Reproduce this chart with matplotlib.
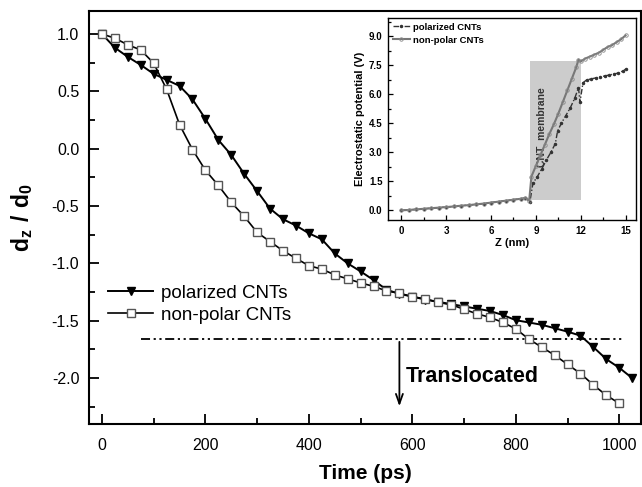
import matplotlib
matplotlib.use("Agg")
import matplotlib.pyplot as plt
from matplotlib.ticker import MultipleLocator

plt.rcParams['font.family'] = ['Liberation Sans', 'DejaVu Sans']
plt.rcParams['mathtext.fontset'] = 'custom'
plt.rcParams['mathtext.rm'] = 'Liberation Sans'
plt.rcParams['mathtext.bf'] = 'Liberation Sans:bold'
plt.rcParams['axes.unicode_minus'] = False

# ---------------- main data ----------------
time_pol = [0, 25, 50, 75, 100, 125, 150, 175, 200, 225, 250, 275, 300, 325, 350,
            375, 400, 425, 450, 475, 500, 525, 550, 575, 600, 625, 650, 675, 700,
            725, 750, 775, 800, 825, 850, 875, 900, 925, 950, 975, 1000, 1025]
dz_pol = [1.0, 0.88, 0.80, 0.73, 0.652, 0.60, 0.547, 0.43, 0.26, 0.076, -0.055,
          -0.22, -0.37, -0.523, -0.615, -0.67, -0.738, -0.79, -0.913, -1.0, -1.07,
          -1.145, -1.23, -1.265, -1.29, -1.315, -1.335, -1.355, -1.375, -1.395,
          -1.415, -1.45, -1.495, -1.515, -1.535, -1.565, -1.595, -1.63, -1.73,
          -1.835, -1.91, -2.0]

time_np = [0, 25, 50, 75, 100, 125, 150, 175, 200, 225, 250, 275, 300, 325, 350,
           375, 400, 425, 450, 475, 500, 525, 550, 575, 600, 625, 650, 675, 700,
           725, 750, 775, 800, 825, 850, 875, 900, 925, 950, 975, 1000]
dz_np = [1.0, 0.963, 0.905, 0.861, 0.745, 0.518, 0.21, -0.008, -0.188, -0.32,
         -0.468, -0.59, -0.73, -0.81, -0.89, -0.956, -1.02, -1.05, -1.10, -1.135,
         -1.17, -1.20, -1.24, -1.26, -1.29, -1.31, -1.34, -1.36, -1.40, -1.44,
         -1.47, -1.515, -1.57, -1.66, -1.73, -1.80, -1.88, -1.96, -2.06, -2.15,
         -2.22]

threshold_y = -1.66
threshold_x = [75, 1008]
arrow_x = 575
arrow_y_end = -2.27

# ---------------- inset data ----------------
z_np = [0, 0.5, 1, 1.5, 2, 2.5, 3, 3.5, 4, 4.5, 5, 5.5, 6, 6.5, 7, 7.5, 8, 8.3,
        8.55, 8.7, 9.0, 9.3, 9.6, 9.9, 10.2, 10.5, 10.8, 11.1, 11.4, 11.7, 11.85,
        12.0, 12.3, 12.6, 12.9, 13.2, 13.5, 13.8, 14.1, 14.4, 14.7, 15.0]
v_np = [0.0, 0.02, 0.05, 0.08, 0.11, 0.14, 0.17, 0.2, 0.24, 0.27, 0.31, 0.35, 0.4,
        0.45, 0.5, 0.55, 0.6, 0.65, 0.5, 1.75, 2.3, 2.85, 3.4, 3.95, 4.45, 5.0,
        5.6, 6.2, 6.8, 7.4, 7.8, 7.7, 7.85, 7.95, 8.05, 8.15, 8.3, 8.45, 8.55,
        8.7, 8.85, 9.05]

z_p = [0, 0.5, 1, 1.5, 2, 2.5, 3, 3.5, 4, 4.5, 5, 5.5, 6, 6.5, 7, 7.5, 8, 8.3,
       8.6, 8.8, 9.1, 9.4, 9.7, 10.0, 10.3, 10.45, 10.7, 11.0, 11.3, 11.6, 11.85,
       11.95, 12.15, 12.4, 12.7, 13.0, 13.3, 13.6, 13.9, 14.2, 14.5, 14.8, 15.0]
v_p = [0.0, 0.02, 0.05, 0.08, 0.11, 0.14, 0.17, 0.2, 0.24, 0.27, 0.31, 0.35, 0.4,
       0.45, 0.5, 0.55, 0.6, 0.62, 0.45, 1.4, 1.75, 2.15, 2.6, 3.0, 3.45, 4.1,
       4.5, 4.9, 5.3, 5.8, 6.35, 5.6, 6.6, 6.75, 6.8, 6.85, 6.9, 6.95, 7.0, 7.05,
       7.1, 7.2, 7.3]

membrane_z = [8.6, 12.0]
membrane_v = [0.55, 7.7]

W, H = 642, 487
fig = plt.figure(figsize=(W / 100, H / 100), dpi=100)

# main axes
ax = fig.add_axes([89 / W, (H - 424) / H, (641 - 89) / W, (424 - 11) / H])
ax.plot(time_pol, dz_pol, color='black', lw=1.4, marker='v', ms=6,
        mfc='black', mec='black', label='polarized CNTs', zorder=3)
ax.plot(time_np, dz_np, color='black', lw=1.2, marker='s', ms=5.5,
        mfc='white', mec='#555555', mew=1.0, label='non-polar CNTs', zorder=4)
ax.plot(threshold_x, [threshold_y, threshold_y], color='black', lw=1.3,
        ls=(0, (5, 2, 1.2, 2, 1.2, 2)), zorder=2)
ax.annotate('', xy=(arrow_x, arrow_y_end), xytext=(arrow_x, threshold_y),
            arrowprops=dict(arrowstyle='->,head_length=0.7,head_width=0.25',
                            color='black', lw=1.3))
ax.text(arrow_x + 13, -1.99, 'Translocated', fontsize=15.5, fontweight='bold',
        va='center', ha='left')

ax.set_xlim(-25, 1042)
ax.set_ylim(-2.4, 1.2)
ax.xaxis.set_major_locator(MultipleLocator(200))
ax.xaxis.set_minor_locator(MultipleLocator(100))
ax.yaxis.set_major_locator(MultipleLocator(0.5))
ax.yaxis.set_minor_locator(MultipleLocator(0.25))
ax.tick_params(which='both', direction='in', top=False, right=False,
               labelsize=11.5, width=1.3)
ax.tick_params(which='major', length=7)
ax.tick_params(which='minor', length=4)
ax.tick_params(axis='x', pad=10)
ax.tick_params(axis='y', pad=7)
for s in ax.spines.values():
    s.set_linewidth(1.5)
ax.set_xlabel('Time (ps)', fontsize=15, fontweight='bold', labelpad=8)
ax.set_ylabel(r'$\mathbf{d_z\ /\ d_0}$', fontsize=16.5, labelpad=12)

leg = ax.legend(loc='upper left', bbox_to_anchor=(0.035, 0.337), frameon=False,
                fontsize=13.5, borderpad=0, borderaxespad=0, handlelength=2.4,
                handletextpad=0.4, labelspacing=0.25)

# inset axes
ix = fig.add_axes([388 / W, (H - 220) / H, (636 - 388) / W, (220 - 18) / H])
ix.set_facecolor('white')
ix.fill_between(membrane_z, membrane_v[0], membrane_v[1], color='#cccccc',
                lw=0, zorder=1)
ix.text(9.4, 4.3, 'CNT  membrane', rotation=90, fontsize=7.5, fontweight='bold',
        color='#333333', ha='center', va='center', zorder=2)
ix.plot(z_p, v_p, color='#333333', lw=1.0, ls=(0, (4, 1.5, 1, 1.5)), marker='.',
        ms=3, label='polarized CNTs', zorder=3)
ix.plot(z_np, v_np, color='#777777', lw=1.5, marker='o', ms=2.5, mfc='none',
        mec='#888888', mew=0.6, label='non-polar CNTs', zorder=4)
ix.set_xlim(-0.9, 15.7)
ix.set_ylim(-0.5, 9.95)
ix.xaxis.set_major_locator(MultipleLocator(3))
ix.xaxis.set_minor_locator(MultipleLocator(1.5))
ix.yaxis.set_major_locator(MultipleLocator(1.5))
ix.yaxis.set_minor_locator(MultipleLocator(0.75))
ix.set_yticks([0, 1.5, 3, 4.5, 6, 7.5, 9])
ix.set_yticklabels(['0.0', '1.5', '3.0', '4.5', '6.0', '7.5', '9.0'])
ix.tick_params(which='both', direction='in', top=False, right=False,
               labelsize=7, width=0.9)
ix.tick_params(which='major', length=3.5)
ix.tick_params(which='minor', length=2)
ix.tick_params(axis='x', pad=4)
ix.tick_params(axis='y', pad=4)
for lab in ix.get_xticklabels() + ix.get_yticklabels():
    lab.set_fontweight('bold')
for s in ix.spines.values():
    s.set_linewidth(1.0)
ix.set_xlabel('Z (nm)', fontsize=8, fontweight='bold', labelpad=2)
ix.set_ylabel('Electrostatic potential (V)', fontsize=8, fontweight='bold',
              labelpad=3)
ix.legend(loc='upper left', frameon=False, borderpad=0.3,
          borderaxespad=0.2, handlelength=1.8, handletextpad=0.3,
          labelspacing=0.4, prop={'weight': 'bold', 'size': 6.8})

fig.savefig('out.png', dpi=100)
